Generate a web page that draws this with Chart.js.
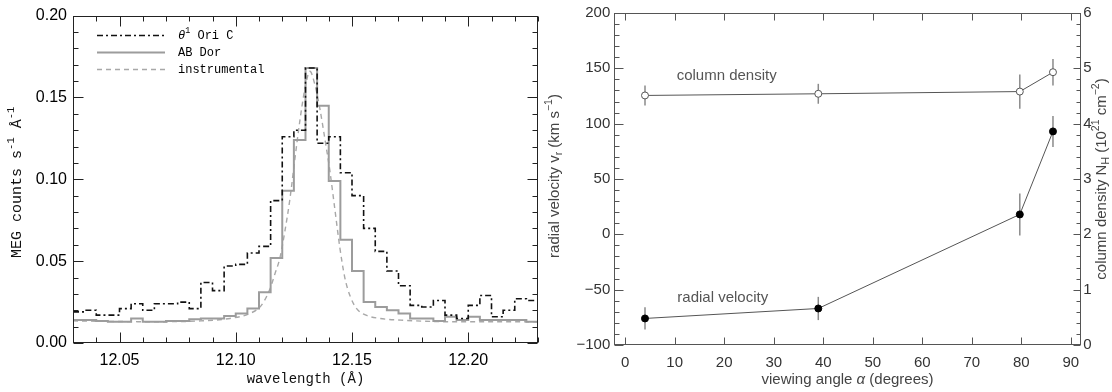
<!DOCTYPE html>
<html>
<head>
<meta charset="utf-8">
<script src="https://cdn.jsdelivr.net/npm/chart.js@4.4.0/dist/chart.umd.min.js"></script>
<style>
  html, body { margin: 0; padding: 0; background: #fff; }
  #wrap { position: relative; width: 1112px; height: 392px; overflow: hidden; background: #fff; }
  #spec { position: absolute; left: 0; top: 0; width: 548px; height: 392px; }
  #angle { position: absolute; left: 540px; top: 0; width: 572px; height: 392px; }
</style>
</head>
<body>
<div id="wrap">
  <canvas id="spec" width="548" height="392"></canvas>
  <canvas id="angle" width="572" height="392"></canvas>
</div>
<script>
// ---- left panel: line profiles ----
var binEdges = [12.030, 12.035, 12.040, 12.045, 12.050, 12.055, 12.060, 12.065, 12.070, 12.075,
                12.080, 12.085, 12.090, 12.095, 12.100, 12.105, 12.110, 12.115, 12.120, 12.125,
                12.130, 12.135, 12.140, 12.145, 12.150, 12.155, 12.160, 12.165, 12.170, 12.175,
                12.180, 12.185, 12.190, 12.195, 12.200, 12.205, 12.210, 12.215, 12.220, 12.225,
                12.230];
var oriC = [0.019, 0.020, 0.017, 0.017, 0.021, 0.024, 0.020, 0.024, 0.024, 0.025,
            0.021, 0.037, 0.032, 0.047, 0.048, 0.055, 0.059, 0.087, 0.126, 0.130,
            0.168, 0.122, 0.126, 0.104, 0.090, 0.070, 0.056, 0.044, 0.035, 0.023,
            0.022, 0.026, 0.017, 0.015, 0.023, 0.029, 0.016, 0.020, 0.027, 0.026];
var abDor = [0.014, 0.014, 0.0135, 0.013, 0.013, 0.015, 0.013, 0.013, 0.0135, 0.0135,
             0.0145, 0.015, 0.015, 0.0165, 0.018, 0.021, 0.031, 0.052, 0.093, 0.124,
             0.168, 0.145, 0.099, 0.063, 0.044, 0.025, 0.022, 0.020, 0.018, 0.015,
             0.015, 0.0135, 0.016, 0.014, 0.016, 0.014, 0.014, 0.014, 0.014, 0.013];
var instWave = [12.030, 12.063, 12.085, 12.0975, 12.106, 12.111, 12.1147, 12.1168, 12.119, 12.1211,
                12.1233, 12.1254, 12.1276, 12.1297, 12.1319, 12.1340, 12.1362, 12.1383, 12.1405, 12.1426,
                12.1448, 12.1469, 12.1491, 12.152, 12.156, 12.162, 12.171, 12.192, 12.230];
var instFlux = [0.0135, 0.013, 0.0135, 0.015, 0.018, 0.023, 0.033, 0.042, 0.052, 0.068,
                0.088, 0.112, 0.136, 0.155, 0.166, 0.158, 0.143, 0.125, 0.105, 0.082,
                0.058, 0.040, 0.029, 0.021, 0.017, 0.015, 0.014, 0.013, 0.013];
var waveTicks = [12.05, 12.10, 12.15, 12.20];
var countTicks = [0.00, 0.05, 0.10, 0.15, 0.20];

// ---- right panel: viewing angle ----
var viewAngle = [4, 39, 79.7, 86.4];
var colDensity = [4.51, 4.54, 4.58, 4.93];
var colDensityErr = [0.18, 0.18, 0.31, 0.24];
var radVelocity = [-76, -67, 18, 93];
var radVelocityErr = [10, 10.5, 19, 14];
var angleTicks = [0, 10, 20, 30, 40, 50, 60, 70, 80, 90];
var velTicks = [-100, -50, 0, 50, 100, 150, 200];
var densTicks = [0, 1, 2, 3, 4, 5, 6];

function histPoints(edges, vals) {
  var pts = vals.map(function (v, i) { return {x: edges[i], y: v}; });
  pts.push({x: edges[edges.length - 1], y: vals[vals.length - 1]});
  return pts;
}

// text made of parts (plain / sup / sub / italic); align 'center' or 'left' at (x, y)
function richText(ctx, parts, x, y, rot, size, family, color, align) {
  ctx.save();
  ctx.translate(x, y);
  ctx.rotate(rot);
  ctx.fillStyle = color;
  ctx.textBaseline = 'middle';
  ctx.textAlign = 'left';
  var fontOf = function (p) {
    var s = (p.sup || p.sub) ? size * 0.7 : size;
    return (p.italic ? 'italic ' : '') + s + 'px ' + family;
  };
  var total = 0;
  parts.forEach(function (p) { ctx.font = fontOf(p); total += ctx.measureText(p.t).width; });
  var cx = align === 'left' ? 0 : -total / 2;
  parts.forEach(function (p) {
    ctx.font = fontOf(p);
    var dy = p.sup ? -size * 0.38 : (p.sub ? size * 0.28 : 0);
    ctx.fillText(p.t, cx, dy);
    cx += ctx.measureText(p.t).width;
  });
  ctx.restore();
}

function makeDecor(cfg) {
  return {
    id: 'decor',
    beforeDatasetsDraw: function (chart) {
      var ctx = chart.ctx;
      chart.data.datasets.forEach(function (ds, i) {
        if (!ds.errors) return;
        var meta = chart.getDatasetMeta(i);
        var xs = chart.scales[meta.xAxisID], ys = chart.scales[meta.yAxisID];
        ctx.save();
        ctx.strokeStyle = ds.errorColor;
        ctx.lineWidth = 1.5;
        ds.data.forEach(function (p, j) {
          var px = xs.getPixelForValue(p.x);
          ctx.beginPath();
          ctx.moveTo(px, ys.getPixelForValue(p.y - ds.errors[j]));
          ctx.lineTo(px, ys.getPixelForValue(p.y + ds.errors[j]));
          ctx.stroke();
        });
        ctx.restore();
      });
    },
    afterDraw: function (chart) {
      var ctx = chart.ctx, a = chart.chartArea;
      var L = Math.round(a.left) + 0.5, R = Math.round(a.right) - 0.5;
      var T = Math.round(a.top) + 0.5, B = Math.round(a.bottom) - 0.5;
      ctx.save();
      ctx.strokeStyle = cfg.frameColor;
      ctx.lineWidth = 1;
      ctx.strokeRect(L, T, R - L, B - T);
      cfg.axes.forEach(function (ax) {
        var s = chart.scales[ax.id];
        var marks = ax.major.map(function (v) { return [v, ax.majorLen]; });
        if (ax.minorStep) {
          var k0 = Math.ceil(s.min / ax.minorStep - 1e-6);
          for (var k = k0; k * ax.minorStep <= s.max + 1e-9; k++) {
            var v = k * ax.minorStep;
            var isMajor = ax.major.some(function (m) { return Math.abs(m - v) < ax.minorStep / 10; });
            if (!isMajor) marks.push([v, ax.minorLen]);
          }
        }
        marks.forEach(function (mk) {
          var p = Math.round(s.getPixelForValue(mk[0])) + 0.5;
          ax.sides.forEach(function (side) {
            var len = mk[1];
            ctx.beginPath();
            if (side === 'bottom') { ctx.moveTo(p, B); ctx.lineTo(p, B - len); }
            if (side === 'top') { ctx.moveTo(p, T); ctx.lineTo(p, T + len); }
            if (side === 'left') { ctx.moveTo(L, p); ctx.lineTo(L + len, p); }
            if (side === 'right') { ctx.moveTo(R, p); ctx.lineTo(R - len, p); }
            ctx.stroke();
          });
        });
      });
      ctx.restore();

      var W = chart.width, H = chart.height;
      var midX = (a.left + a.right) / 2, midY = (a.top + a.bottom) / 2;
      cfg.titles.forEach(function (t) {
        var x, y, rot = 0;
        if (t.side === 'left') { x = t.dist; y = midY; rot = -Math.PI / 2; }
        if (t.side === 'right') { x = W - t.dist; y = midY; rot = -Math.PI / 2; }
        if (t.side === 'bottom') { x = midX; y = H - t.dist; }
        richText(ctx, t.parts, x, y + (t.shift || 0), rot, t.size, t.family, t.color);
      });

      (cfg.notes || []).forEach(function (n) {
        var xs = chart.scales.x, ys = chart.scales[n.axis];
        richText(ctx, [{t: n.text}], xs.getPixelForValue(n.x), ys.getPixelForValue(n.y), 0,
                 n.size, n.family, n.color);
      });

      if (cfg.legend) {
        var lg = cfg.legend;
        chart.data.datasets.forEach(function (ds, i) {
          var y = lg.y + i * lg.rowH + 0.5;
          ctx.save();
          ctx.strokeStyle = ds.borderColor;
          ctx.lineWidth = ds.borderWidth;
          ctx.setLineDash(ds.borderDash || []);
          ctx.beginPath();
          ctx.moveTo(lg.x, y);
          ctx.lineTo(lg.x + lg.lineLen, y);
          ctx.stroke();
          ctx.restore();
          richText(ctx, lg.parts[i], lg.textX, y, 0, lg.size, lg.family, '#000', 'left');
        });
      }
    }
  };
}

var noAnim = false;
var sansFont = '"Liberation Sans", Arial, sans-serif';
var monoFont = '"Liberation Mono", monospace';

// ---------- left chart ----------
new Chart(document.getElementById('spec'), {
  type: 'line',
  data: {
    datasets: [
      {label: 'θ¹ Ori C', data: histPoints(binEdges, oriC), stepped: 'before',
       borderColor: '#111', borderWidth: 1.6, borderDash: [6, 3, 2, 3], pointRadius: 0, fill: false},
      {label: 'AB Dor', data: histPoints(binEdges, abDor), stepped: 'before',
       borderColor: '#9c9c9c', borderWidth: 2, pointRadius: 0, fill: false},
      {label: 'instrumental', data: instWave.map(function (w, i) { return {x: w, y: instFlux[i]}; }),
       cubicInterpolationMode: 'monotone', borderColor: '#a8a8a8', borderWidth: 1.4,
       borderDash: [5, 4], pointRadius: 0, fill: false}
    ]
  },
  options: {
    responsive: false,
    animation: noAnim,
    layout: {padding: {top: 11, right: 10, left: 0, bottom: 0}},
    plugins: {legend: {display: false}, tooltip: {enabled: false}},
    scales: {
      x: {
        type: 'linear', min: 12.03, max: 12.23,
        afterBuildTicks: function (s) { s.ticks = waveTicks.map(function (v) { return {value: v}; }); },
        afterFit: function (s) { s.height = 49; },
        grid: {display: false, drawTicks: false}, border: {display: false},
        ticks: {color: '#000', font: {family: sansFont, size: 16}, padding: 8,
                maxRotation: 0, autoSkip: false,
                callback: function (v) { return Number(v).toFixed(2); }}
      },
      y: {
        min: 0, max: 0.2,
        afterBuildTicks: function (s) { s.ticks = countTicks.map(function (v) { return {value: v}; }); },
        afterFit: function (s) { s.width = 73; },
        grid: {display: false, drawTicks: false}, border: {display: false},
        ticks: {color: '#000', font: {family: sansFont, size: 16}, padding: 6,
                autoSkip: false,
                callback: function (v) { return Number(v).toFixed(2); }}
      }
    }
  },
  plugins: [makeDecor({
    frameColor: '#222',
    axes: [
      {id: 'x', major: waveTicks, minorStep: 0.01, majorLen: 10, minorLen: 5, sides: ['bottom', 'top']},
      {id: 'y', major: countTicks, minorStep: 0.01, majorLen: 10, minorLen: 5, sides: ['left', 'right']}
    ],
    titles: [
      {side: 'left', dist: 17, size: 15, family: monoFont, color: '#111', shift: 3,
       parts: [{t: 'MEG counts s'}, {t: '-1', sup: true}, {t: ' Å'}, {t: '-1', sup: true}]},
      {side: 'bottom', dist: 13, size: 14, family: monoFont, color: '#111',
       parts: [{t: 'wavelength (Å)'}]}
    ],
    legend: {
      x: 97, y: 35, rowH: 17, lineLen: 68, textX: 178, size: 12, family: monoFont,
      parts: [
        [{t: 'θ', italic: true}, {t: '1', sup: true}, {t: ' Ori C'}],
        [{t: 'AB Dor'}],
        [{t: 'instrumental'}]
      ]
    }
  })]
});

// ---------- right chart ----------
function minusFmt(v) { return v < 0 ? '\u2212' + Math.abs(v) : String(v); }

new Chart(document.getElementById('angle'), {
  type: 'line',
  data: {
    datasets: [
      {label: 'column density', yAxisID: 'y2',
       data: viewAngle.map(function (a, i) { return {x: a, y: colDensity[i]}; }),
       errors: colDensityErr, errorColor: '#8a8a8a',
       borderColor: '#555', borderWidth: 1, pointRadius: 3.5, pointBorderWidth: 1,
       pointBorderColor: '#555', pointBackgroundColor: '#fff', fill: false},
      {label: 'radial velocity', yAxisID: 'y',
       data: viewAngle.map(function (a, i) { return {x: a, y: radVelocity[i]}; }),
       errors: radVelocityErr, errorColor: '#8a8a8a',
       borderColor: '#555', borderWidth: 1, pointRadius: 3.5, pointBorderWidth: 1,
       pointBorderColor: '#000', pointBackgroundColor: '#000', fill: false}
    ]
  },
  options: {
    responsive: false,
    animation: noAnim,
    layout: {padding: {top: 9.4, right: 0, left: 0, bottom: 0}},
    plugins: {legend: {display: false}, tooltip: {enabled: false}},
    scales: {
      x: {
        type: 'linear', min: -2.2, max: 92,
        afterBuildTicks: function (s) { s.ticks = angleTicks.map(function (v) { return {value: v}; }); },
        afterFit: function (s) { s.height = 47; },
        grid: {display: false, drawTicks: false}, border: {display: false},
        ticks: {color: '#333', font: {family: sansFont, size: 15}, padding: 9,
                maxRotation: 0, autoSkip: false}
      },
      y: {
        position: 'left', min: -100, max: 200,
        afterBuildTicks: function (s) { s.ticks = velTicks.map(function (v) { return {value: v}; }); },
        afterFit: function (s) { s.width = 74.3; },
        grid: {display: false, drawTicks: false}, border: {display: false},
        ticks: {color: '#333', font: {family: sansFont, size: 15}, padding: 4,
                autoSkip: false, callback: minusFmt}
      },
      y2: {
        position: 'right', min: 0, max: 6,
        afterBuildTicks: function (s) { s.ticks = densTicks.map(function (v) { return {value: v}; }); },
        afterFit: function (s) { s.width = 31.3; },
        grid: {display: false, drawTicks: false}, border: {display: false},
        ticks: {color: '#333', font: {family: sansFont, size: 15}, padding: 2.5,
                autoSkip: false}
      }
    }
  },
  plugins: [makeDecor({
    frameColor: '#555',
    axes: [
      {id: 'x', major: angleTicks, minorStep: 0, majorLen: 7, minorLen: 0, sides: ['bottom', 'top']},
      {id: 'y', major: velTicks, minorStep: 10, majorLen: 9, minorLen: 5, sides: ['left']},
      {id: 'y2', major: densTicks, minorStep: 0.2, majorLen: 7, minorLen: 4, sides: ['right']}
    ],
    titles: [
      {side: 'left', dist: 15, size: 15, family: sansFont, color: '#444', shift: -3,
       parts: [{t: 'radial velocity v'}, {t: 'r', sub: true}, {t: ' (km s'}, {t: '−1', sup: true}, {t: ')'}]},
      {side: 'right', dist: 10, size: 15, family: sansFont, color: '#444',
       parts: [{t: 'column density N'}, {t: 'H', sub: true}, {t: ' (10'}, {t: '21', sup: true},
               {t: ' cm'}, {t: '−2', sup: true}, {t: ')'}]},
      {side: 'bottom', dist: 12, size: 15, family: sansFont, color: '#444',
       parts: [{t: 'viewing angle '}, {t: 'α', italic: true}, {t: ' (degrees)'}]}
    ],
    notes: [
      {text: 'column density', x: 20.5, y: 143, axis: 'y', size: 15, family: sansFont, color: '#555'},
      {text: 'radial velocity', x: 19.7, y: -57.7, axis: 'y', size: 15, family: sansFont, color: '#555'}
    ]
  })]
});
</script>
</body>
</html>
